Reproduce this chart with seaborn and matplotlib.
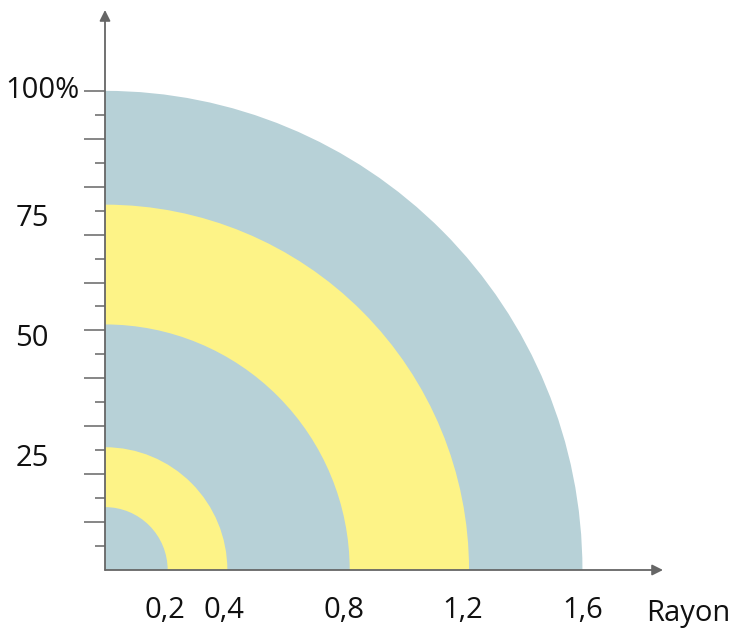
import numpy as np
import matplotlib
matplotlib.use('Agg')
import matplotlib.pyplot as plt
import seaborn as sns
from matplotlib.patches import Wedge
from matplotlib.ticker import FixedLocator, NullFormatter

sns.set_theme(style='white')
plt.rcParams['font.family'] = ['Open Sans', 'DejaVu Sans']

# données : rayons des anneaux (du centre vers l'extérieur) et couleurs
ring_radii = [0.21, 0.41, 0.82, 1.22, 1.60]
ring_colors = ['#b7d1d7', '#fdf387', '#b7d1d7', '#fdf387', '#b7d1d7']

x_ticks = [0.2, 0.4, 0.8, 1.2, 1.6]
x_labels = ['0,2', '0,4', '0,8', '1,2', '1,6']

y_label_pos = [0.4, 0.8, 1.2, 1.6]
y_labels = ['25', '50', '75', '100%']

y_major = np.arange(1, 11) * 0.16
y_minor = np.arange(0, 10) * 0.16 + 0.08

axis_col = '#666666'
fs = 21

fig = plt.figure(figsize=(7.37, 6.32), dpi=100)
ax = fig.add_axes([105 / 737, 62 / 632, 558 / 737, 560 / 632])
ax.set_xlim(0, 1.87)
ax.set_ylim(0, 1.87)

# anneaux : du plus grand au plus petit
for r, c in sorted(zip(ring_radii, ring_colors), reverse=True):
    ax.add_patch(Wedge((0, 0), r, 0, 90, facecolor=c, edgecolor='none'))

for s in ['top', 'right', 'left', 'bottom']:
    ax.spines[s].set_visible(False)

# axes avec flèches
arrow = dict(arrowstyle='-|>', color=axis_col, lw=1.3, mutation_scale=16,
             shrinkA=0, shrinkB=0)
ax.annotate('', xy=(1, 0), xytext=(0, 0), xycoords='axes fraction', arrowprops=arrow)
ax.annotate('', xy=(0, 1), xytext=(0, 0), xycoords='axes fraction', arrowprops=arrow)

# graduations
ax.set_xticks(x_ticks)
ax.set_xticklabels(x_labels, fontsize=fs, color='#111111')
ax.tick_params(axis='x', length=0, pad=19)

ax.yaxis.set_major_locator(FixedLocator(y_major))
ax.yaxis.set_minor_locator(FixedLocator(y_minor))
ax.yaxis.set_major_formatter(NullFormatter())
ax.tick_params(axis='y', which='major', left=True, length=15, width=1.1, color=axis_col)
ax.tick_params(axis='y', which='minor', left=True, length=7.5, width=1.1, color=axis_col)

for v, t in zip(y_label_pos, y_labels):
    if t.endswith('%'):
        off = (-25, 0)
    else:
        off = (-56, -8)
    ax.annotate(t, xy=(0, v), xycoords=('axes fraction', 'data'), xytext=off,
                textcoords='offset pixels', ha='right', va='center',
                fontsize=fs, color='#111111')

ax.annotate('Rayon', xy=(1.815, 0), xycoords='data', xytext=(0, -44),
            textcoords='offset pixels', ha='left', va='center',
            fontsize=fs, color='#111111', annotation_clip=False)

fig.savefig('out.png', dpi=100)
